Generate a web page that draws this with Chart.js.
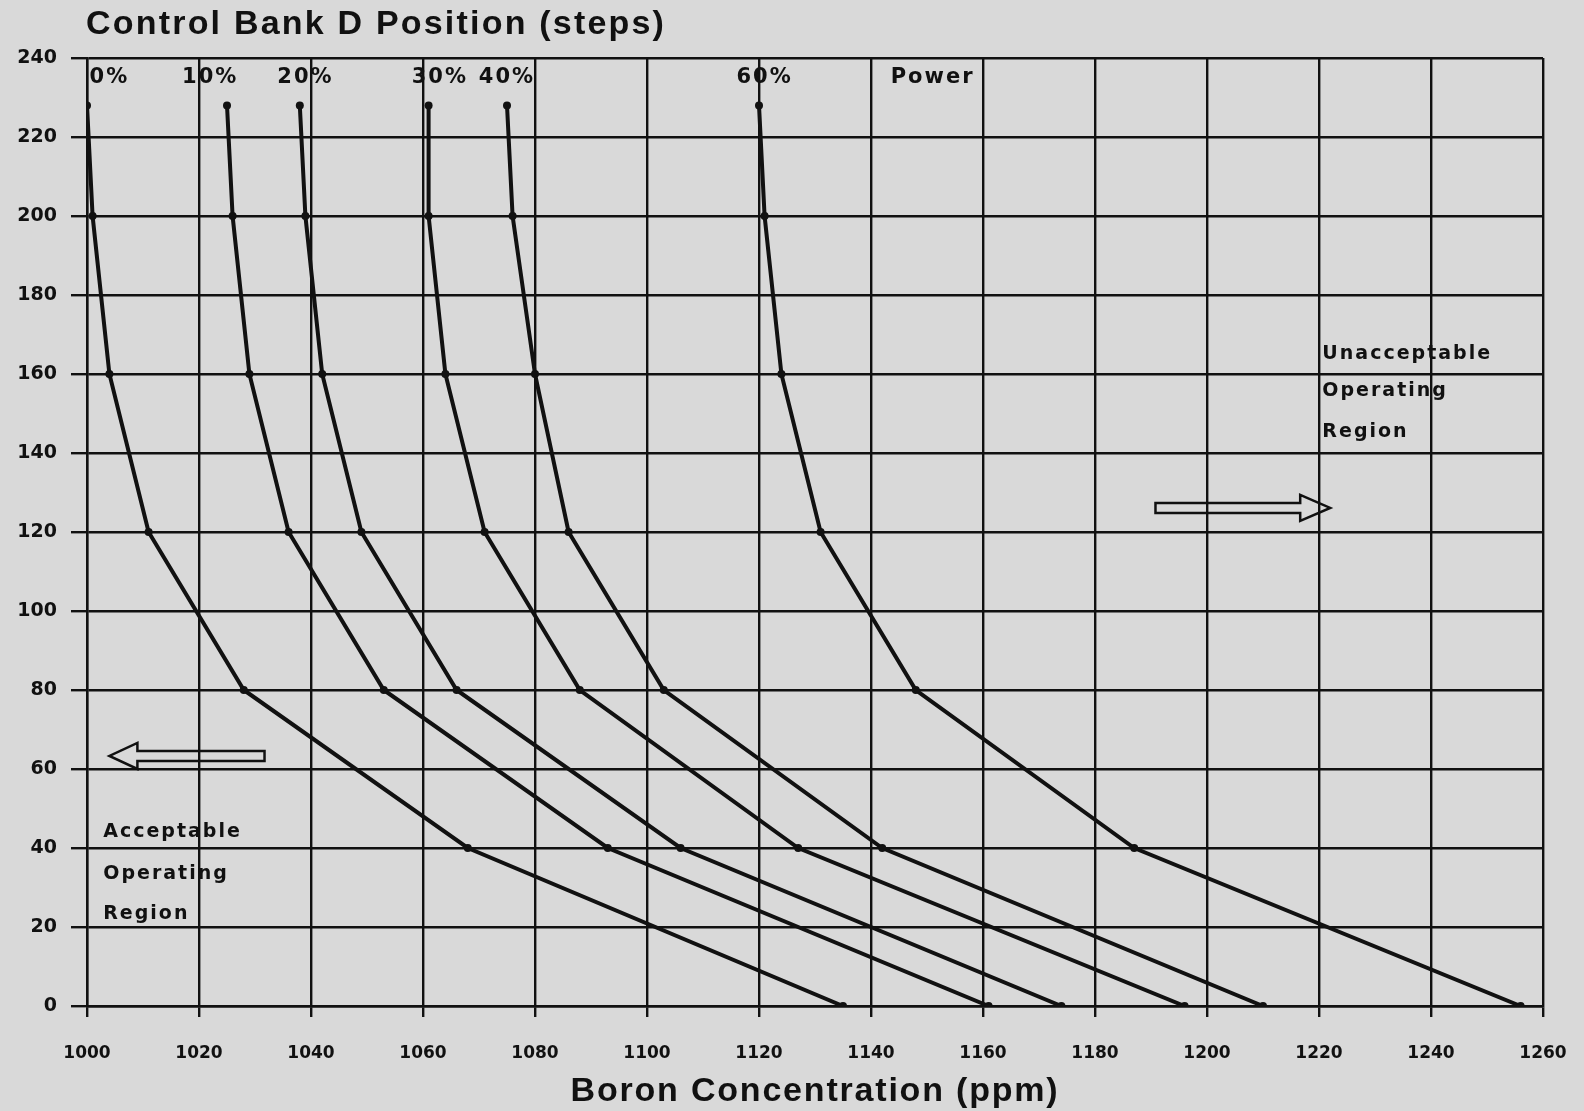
<!DOCTYPE html>
<html><head><meta charset="utf-8">
<script src="https://cdn.jsdelivr.net/npm/chart.js@4.4.1/dist/chart.umd.min.js"></script>
<style>html,body{margin:0;padding:0;background:#d9d9d9;overflow:hidden}canvas{display:block}</style>
</head><body>
<canvas id="c" width="1584" height="1111"></canvas>
<script>
// ---- data ----
const steps = [228, 200, 160, 120, 80, 40, 0];            // Control Bank D position (steps)
const power0  = [1000, 1001, 1004, 1011, 1028, 1068, 1135];
const power10 = [1025, 1026, 1029, 1036, 1053, 1093, 1161];
const power20 = [1038, 1039, 1042, 1049, 1066, 1106, 1174];
const power30 = [1061, 1061, 1064, 1071, 1088, 1127, 1196];
const power40 = [1075, 1076, 1080, 1086, 1103, 1142, 1210];
const power60 = [1120, 1121, 1124, 1131, 1148, 1187, 1256];
const seriesLabels = ['0%', '10%', '20%', '30%', '40%', '60%'];
const seriesValues = [power0, power10, power20, power30, power40, power60];
const xTicks = [1000,1020,1040,1060,1080,1100,1120,1140,1160,1180,1200,1220,1240,1260];
const yTicks = [0,20,40,60,80,100,120,140,160,180,200,220,240];
const chartTitle = 'Control Bank D Position (steps)';
const xTitle = 'Boron Concentration (ppm)';
const powerWord = 'Power';
const unacceptableText = ['Unacceptable', 'Operating', 'Region'];
const acceptableText = ['Acceptable', 'Operating', 'Region'];

// annotation anchors (in data units)
const curveLabelX = [1004, 1022, 1039, 1063, 1075, 1121];
const powerLabelX = 1151;
const labelY = 235;
const unaccAnchor = {x: 1220.6, y: [165.0, 155.8, 145.4]};
const accAnchor = {x: 1002.9, y: [44.0, 33.5, 23.3]};
const leftArrow = {from: 1031.7, to: 1004.0, y: 63.3};
const rightArrow = {from: 1190.8, to: 1222.0, y: 126.1};

const INK = '#111';
const BG = '#d9d9d9';

const datasets = seriesValues.map((vals, i) => ({
  label: seriesLabels[i],
  data: vals.map((v, j) => ({x: v, y: steps[j]})),
  borderColor: INK, backgroundColor: INK,
  borderWidth: 4, pointRadius: 4, pointHoverRadius: 4,
  pointBackgroundColor: INK, pointBorderWidth: 0,
  tension: 0, showLine: true
}));

function drawArrow(ctx, x0, x1, y, shaftH, headH, headL) {
  const dir = Math.sign(x1 - x0);
  const hb = x1 - dir * headL;
  ctx.beginPath();
  ctx.moveTo(x0, y - shaftH / 2);
  ctx.lineTo(hb, y - shaftH / 2);
  ctx.lineTo(hb, y - headH / 2);
  ctx.lineTo(x1, y);
  ctx.lineTo(hb, y + headH / 2);
  ctx.lineTo(hb, y + shaftH / 2);
  ctx.lineTo(x0, y + shaftH / 2);
  ctx.closePath();
  ctx.stroke();
}

const decor = {
  id: 'decor',
  beforeDraw(chart) {
    const ctx = chart.ctx;
    ctx.save();
    ctx.fillStyle = BG;
    ctx.fillRect(0, 0, chart.width, chart.height);
    ctx.restore();
  },
  afterDraw(chart) {
    const ctx = chart.ctx;
    const xs = chart.scales.x, ys = chart.scales.y;
    const ca = chart.chartArea;
    ctx.save();
    ctx.fillStyle = INK;
    // chart title
    ctx.font = 'bold 34px "Liberation Sans", Arial, sans-serif';
    ctx.textBaseline = 'middle';
    ctx.textAlign = 'left';
    ctx.letterSpacing = '2.2px';
    ctx.fillText(chartTitle, 86, 25);
    // x axis title
    ctx.textAlign = 'center';
    ctx.letterSpacing = '1.8px';
    ctx.fillText(xTitle, (ca.left + ca.right) / 2, 1092);
    // curve labels
    ctx.font = 'bold 21px "DejaVu Sans", sans-serif';
    ctx.letterSpacing = '2px';
    ctx.textAlign = 'center';
    curveLabelX.forEach((v, i) => {
      ctx.fillText(seriesLabels[i], xs.getPixelForValue(v), ys.getPixelForValue(labelY));
    });
    ctx.fillText(powerWord, xs.getPixelForValue(powerLabelX), ys.getPixelForValue(labelY));
    // region labels
    ctx.font = 'bold 19px "DejaVu Sans", sans-serif';
    ctx.letterSpacing = '2px';
    ctx.textAlign = 'left';
    unacceptableText.forEach((t, i) => ctx.fillText(t, xs.getPixelForValue(unaccAnchor.x), ys.getPixelForValue(unaccAnchor.y[i])));
    acceptableText.forEach((t, i) => ctx.fillText(t, xs.getPixelForValue(accAnchor.x), ys.getPixelForValue(accAnchor.y[i])));
    // arrows
    ctx.strokeStyle = INK;
    ctx.lineWidth = 2.5;
    ctx.lineJoin = 'miter';
    drawArrow(ctx, xs.getPixelForValue(leftArrow.from), xs.getPixelForValue(leftArrow.to), ys.getPixelForValue(leftArrow.y), 10, 26, 28);
    drawArrow(ctx, xs.getPixelForValue(rightArrow.from), xs.getPixelForValue(rightArrow.to), ys.getPixelForValue(rightArrow.y), 10, 26, 30);
    ctx.restore();
  }
};

new Chart(document.getElementById('c'), {
  type: 'scatter',
  data: {datasets},
  plugins: [decor],
  options: {
    responsive: false, animation: false, devicePixelRatio: 1,
    layout: {padding: {left: 0, right: 41, top: 58, bottom: 0}},
    plugins: {legend: {display: false}, tooltip: {enabled: false}, title: {display: false}},
    scales: {
      x: {
        type: 'linear', min: xTicks[0], max: xTicks[xTicks.length - 1],
        afterBuildTicks: s => { s.ticks = xTicks.map(v => ({value: v})); },
        afterFit: s => { s.height = 105; s.paddingLeft = 0; s.paddingRight = 0; },
        grid: {color: INK, lineWidth: 2.4, tickLength: 11, drawTicks: true},
        border: {color: INK, width: 2.4},
        ticks: {color: INK, font: {family: '"DejaVu Sans", sans-serif', weight: 'bold', size: 17},
                padding: 26, maxRotation: 0, autoSkip: false, callback: v => String(v)},
        title: {display: false}
      },
      y: {
        type: 'linear', min: yTicks[0], max: yTicks[yTicks.length - 1],
        afterBuildTicks: s => { s.ticks = yTicks.map(v => ({value: v})); },
        afterFit: s => { s.width = 87; },
        grid: {color: INK, lineWidth: 2.4, tickLength: 16, drawTicks: true},
        border: {color: INK, width: 2.4},
        ticks: {color: INK, font: {family: '"DejaVu Sans", sans-serif', weight: 'bold', size: 19},
                padding: 14, autoSkip: false, callback: v => String(v)}
      }
    }
  }
});
</script>
</body></html>
